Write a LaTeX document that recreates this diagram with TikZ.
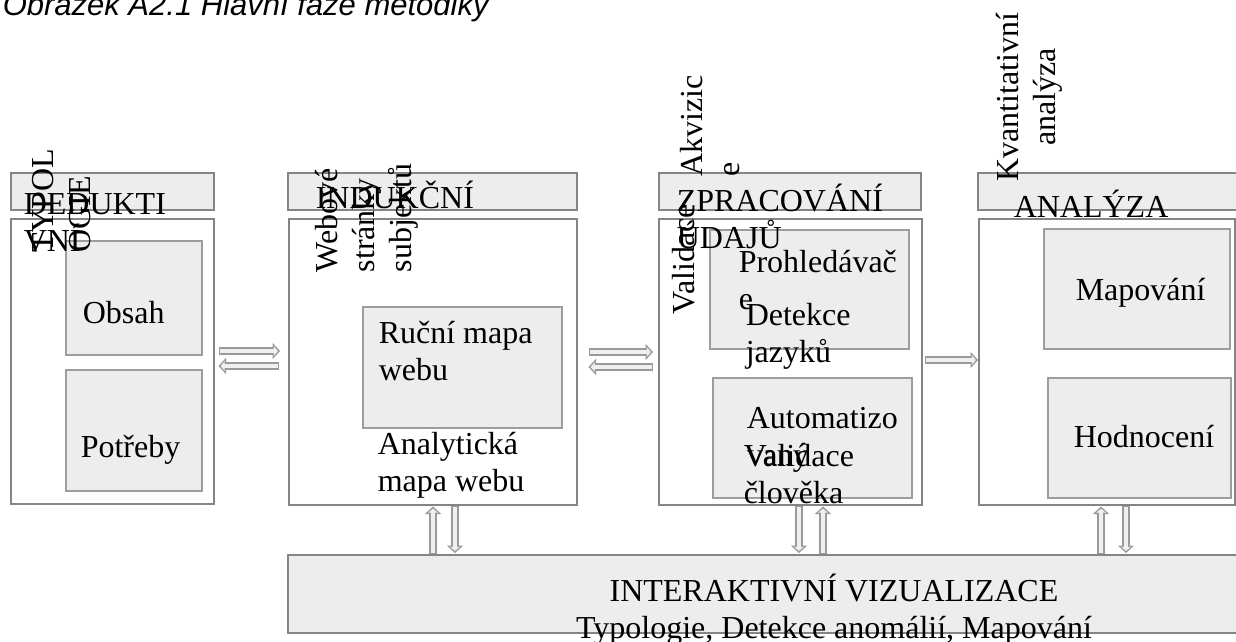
\documentclass[tikz,border=0pt]{standalone}
\usepackage{fontspec}
\setmainfont{Liberation Serif}
\newfontfamily\titlefont{Liberation Sans}
\usetikzlibrary{calc,arrows.meta}

\definecolor{boxgray}{HTML}{858585}
\definecolor{hdrfill}{HTML}{EDEDED}
\definecolor{arrgray}{HTML}{9A9A9A}
\definecolor{arrfill}{HTML}{F0F0F0}

\tikzset{every picture/.style={line width=1.5pt}}
\tikzset{
  hdrbox/.style={draw=boxgray, fill=hdrfill, anchor=north west, inner sep=0pt},
  mainbox/.style={draw=boxgray, fill=white, anchor=north west, inner sep=0pt},
  innerbox/.style={draw=boxgray!80, fill=hdrfill, anchor=north west, inner sep=0pt},
  lbl/.style={anchor=base west, inner sep=0pt, align=left, font=\fontsize{32}{37}\selectfont},
  rotlbl/.style={rotate=90, anchor=north west, inner sep=0pt, align=left, font=\fontsize{32}{37}\selectfont},
  blockarr/.style={draw=arrgray, line width=7.5pt, -{Triangle[length=7.5pt,width=16pt]},
    postaction={draw=arrfill, line width=4.5pt, shorten >=2.2pt, shorten <=1.5pt, -{Triangle[length=4pt,width=9.5pt]}}},
}

\begin{document}
\begin{tikzpicture}[x=1pt,y=1pt,yscale=-1,xscale=1]
        \useasboundingbox (0,0) rectangle (1236,642);

        %Shape: Rectangle [main boxes]
        \node[mainbox, minimum width=203pt, minimum height=285pt] (b1) at (10,218) {};
        \node[mainbox, minimum width=288pt, minimum height=286pt] (b2) at (288,218) {};
        \node[mainbox, minimum width=263pt, minimum height=286pt] (b3) at (658,218) {};
        \node[mainbox, minimum width=256pt, minimum height=286pt] (b4) at (978,218) {};

        %Shape: Rectangle [header bars]
        \node[hdrbox, minimum width=203pt, minimum height=37pt] (h1) at (10,172) {};
        \node[hdrbox, minimum width=289pt, minimum height=37pt] (h2) at (287,172) {};
        \node[hdrbox, minimum width=262pt, minimum height=37pt] (h3) at (658,172) {};
        \node[hdrbox, minimum width=270pt, minimum height=37pt] (h4) at (977,172) {};

        %Shape: Rectangle [inner boxes]
        \node[innerbox, minimum width=136pt, minimum height=114pt] (obsah) at (65,240) {};
        \node[innerbox, minimum width=136pt, minimum height=121pt] (potreby) at (65,369) {};
        \node[innerbox, minimum width=199pt, minimum height=121pt] (rucni) at (362,306) {};
        \node[innerbox, minimum width=199pt, minimum height=119pt] (prohl) at (709,229) {};
        \node[innerbox, minimum width=199pt, minimum height=120pt] (autom) at (712,377) {};
        \node[innerbox, minimum width=186pt, minimum height=120pt] (mapov) at (1043,228) {};
        \node[innerbox, minimum width=183pt, minimum height=120pt] (hodn) at (1047,377) {};

        %Shape: Rectangle [bottom bar]
        \node[hdrbox, minimum width=960pt, minimum height=78pt] (bar) at (287,554) {};

        %Block Arrows
        \draw[blockarr] ($(b1.east|-0,351)+(4,0)$) -- ($(b2.west|-0,351)+(-8,0)$);
        \draw[blockarr] ($(b2.west|-0,366)+(-9,0)$) -- ($(b1.east|-0,366)+(4,0)$);
        \draw[blockarr] ($(b2.east|-0,352)+(11,0)$) -- ($(b3.west|-0,352)+(-5,0)$);
        \draw[blockarr] ($(b3.west|-0,367)+(-5,0)$) -- ($(b2.east|-0,367)+(11,0)$);
        \draw[blockarr] ($(b3.east|-0,360)+(2,0)$) -- (b4.west|-0,360);
        \draw[blockarr] (bar.north-|433,0) -- ($(b2.south-|433,0)+(0,1)$);
        \draw[blockarr] (b2.south-|455,0) -- ($(bar.north-|455,0)+(0,-1)$);
        \draw[blockarr] (b3.south-|799,0) -- ($(bar.north-|799,0)+(0,-1)$);
        \draw[blockarr] (bar.north-|823,0) -- ($(b3.south-|823,0)+(0,1)$);
        \draw[blockarr] (bar.north-|1101,0) -- ($(b4.south-|1101,0)+(0,1)$);
        \draw[blockarr] (b4.south-|1126,0) -- ($(bar.north-|1126,0)+(0,-1)$);

        % Text Node
        \node[anchor=base west, inner sep=0pt, font=\titlefont\itshape\fontsize{31}{37}\selectfont] (title) at (2,16) {Obrázek A2.1 Hlavní fáze metodiky};
        % Text Node
        \node[lbl] (t_ded) at (23,251) {DEDUKTI\\VNÍ};
        \node[rotlbl] (t_typ) at (32,253) {TYPOL\\OGIE};
        \node[lbl] (t_obs) at (82,323) {Obsah};
        \node[lbl] (t_pot) at (80,457) {Potřeby};
        % Text Node
        \node[lbl] (t_ind) at (315,208) {INDUKČNÍ};
        \node[rotlbl] (t_web) at (314,273) {Webové\\stránky\\subjektů};
        \node[lbl] (t_rmw) at (378,380) {Ruční mapa\\webu};
        \node[lbl] (t_amw) at (377,491) {Analytická\\mapa webu};
        % Text Node
        \node[lbl] (t_zpr) at (676,248) {ZPRACOVÁNÍ\\ÚDAJŮ};
        \node[rotlbl] (t_akv) at (680,177) {Akvizic\\e};
        \node[rotlbl] (t_val) at (672,315) {Validace};
        \node[lbl] (t_pro) at (738,309) {Prohledávač\\e};
        \node[lbl] (t_det) at (745,362) {Detekce\\jazyků};
        \node[lbl] (t_aut) at (746,465) {Automatizo\\vaný};
        \node[lbl] (t_vch) at (743,503) {Validace\\člověka};
        % Text Node
        \node[lbl] (t_ana) at (1013,217) {ANALÝZA};
        \node[rotlbl, anchor=north, align=center] (t_kva) at (995,97) {Kvantitativní\\analýza};
        \node[lbl] (t_map) at (1075,300) {Mapování};
        \node[lbl] (t_hod) at (1073,447) {Hodnocení};
        % Text Node
        \node[lbl, anchor=base, align=center] (t_int) at (834,638) {INTERAKTIVNÍ VIZUALIZACE\\Typologie, Detekce anomálií, Mapování};
\end{tikzpicture}
\end{document}
